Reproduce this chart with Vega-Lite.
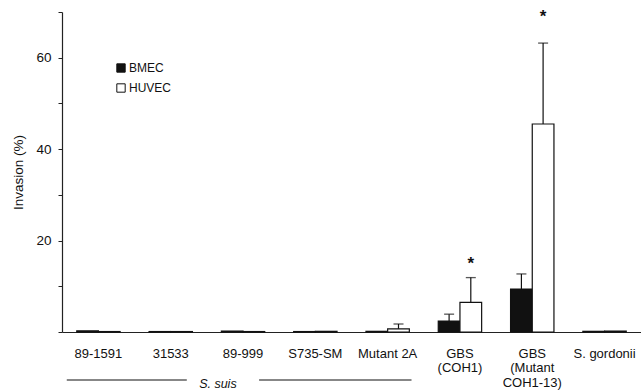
{
  "$schema": "https://vega.github.io/schema/vega-lite/v6.json",
  "width": 579,
  "height": 320,
  "autosize": {"type": "none"},
  "padding": {"left": 62, "top": 12, "right": 0, "bottom": 60},
  "background": "white",
  "config": {
    "view": {"stroke": null},
    "font": "Liberation Sans",
    "axis": {"grid": false, "domainColor": "#222", "tickColor": "#222", "labelColor": "#111", "titleColor": "#111", "labelFont": "Liberation Sans", "titleFont": "Liberation Sans"}
  },
  "data": {
    "values": [
      {"strain": "89-1591", "cell": "BMEC", "value": 0.25},
      {"strain": "89-1591", "cell": "HUVEC", "value": 0.1},
      {"strain": "31533", "cell": "BMEC", "value": 0.1},
      {"strain": "31533", "cell": "HUVEC", "value": 0.1},
      {"strain": "89-999", "cell": "BMEC", "value": 0.2},
      {"strain": "89-999", "cell": "HUVEC", "value": 0.1},
      {"strain": "S735-SM", "cell": "BMEC", "value": 0.1},
      {"strain": "S735-SM", "cell": "HUVEC", "value": 0.15},
      {"strain": "Mutant 2A", "cell": "BMEC", "value": 0.15},
      {"strain": "Mutant 2A", "cell": "HUVEC", "value": 0.7, "err": 1.75},
      {"strain": "GBS (COH1)", "cell": "BMEC", "value": 2.4, "err": 3.9},
      {"strain": "GBS (COH1)", "cell": "HUVEC", "value": 6.5, "err": 11.9, "star": 16},
      {"strain": "GBS (Mutant COH1-13)", "cell": "BMEC", "value": 9.4, "err": 12.7},
      {"strain": "GBS (Mutant COH1-13)", "cell": "HUVEC", "value": 45.5, "err": 63.2, "star": 70},
      {"strain": "S. gordonii", "cell": "BMEC", "value": 0.15},
      {"strain": "S. gordonii", "cell": "HUVEC", "value": 0.2}
    ]
  },
  "encoding": {
    "x": {
      "field": "strain",
      "type": "nominal",
      "sort": null,
      "scale": {"domain": ["89-1591", "31533", "89-999", "S735-SM", "Mutant 2A", "GBS (COH1)", "GBS (Mutant COH1-13)", "S. gordonii"], "paddingInner": 0.4, "paddingOuter": 0.204},
      "axis": {
        "title": null,
        "labelAngle": 0,
        "ticks": false,
        "labelPadding": 15,
        "labelFontSize": 13,
        "labelLineHeight": 14.5,
        "labelBaseline": "top",
        "labelExpr": "datum.value == 'GBS (COH1)' ? ['GBS', '(COH1)'] : datum.value == 'GBS (Mutant COH1-13)' ? ['GBS', '(Mutant', 'COH1-13)'] : datum.label",
        "domainWidth": 1.2
      }
    }
  },
  "layer": [
    {
      "mark": {"type": "bar", "stroke": "#111", "strokeWidth": 1.2},
      "encoding": {
        "xOffset": {"field": "cell", "type": "nominal", "scale": {"domain": ["BMEC", "HUVEC"], "paddingInner": 0, "paddingOuter": 0}},
        "y": {
          "field": "value",
          "type": "quantitative",
          "scale": {"domain": [0, 70], "nice": false},
          "axis": {
            "title": "Invasion (%)",
            "titleFontSize": 13.5,
            "titleFontWeight": "normal",
            "titlePadding": 10,
            "values": [0, 10, 20, 30, 40, 50, 60, 70],
            "labelExpr": "datum.value == 20 || datum.value == 40 || datum.value == 60 ? datum.label : ''",
            "labelFontSize": 13.5,
            "tickSize": 4,
            "labelPadding": 7,
            "domainWidth": 1.2
          }
        },
        "color": {
          "field": "cell",
          "type": "nominal",
          "scale": {"domain": ["BMEC", "HUVEC"], "range": ["#111111", "#ffffff"]},
          "legend": {
            "title": null,
            "orient": "none",
            "legendX": 53,
            "legendY": 50,
            "symbolType": "square",
            "symbolSize": 70,
            "symbolStrokeColor": "#111",
            "symbolStrokeWidth": 1,
            "labelFontSize": 12,
            "labelOffset": 2,
            "rowPadding": 6,
            "labelColor": "#111"
          }
        }
      }
    },
    {
      "transform": [{"filter": "isValid(datum.err)"}],
      "mark": {"type": "rule", "stroke": "#111", "strokeWidth": 1.2},
      "encoding": {
        "xOffset": {"field": "cell", "type": "nominal"},
        "y": {"field": "value", "type": "quantitative"},
        "y2": {"field": "err"}
      }
    },
    {
      "transform": [{"filter": "isValid(datum.err)"}],
      "mark": {"type": "tick", "color": "#111", "thickness": 1.3, "size": 10, "orient": "horizontal"},
      "encoding": {
        "xOffset": {"field": "cell", "type": "nominal"},
        "y": {"field": "err", "type": "quantitative"}
      }
    },
    {
      "transform": [{"filter": "isValid(datum.star)"}],
      "mark": {"type": "text", "text": "*", "fontSize": 17, "fontWeight": "bold", "baseline": "alphabetic", "dy": 10, "color": "#111"},
      "encoding": {
        "xOffset": {"field": "cell", "type": "nominal"},
        "y": {"field": "star", "type": "quantitative"}
      }
    },
    {
      "data": {"values": [{"from": "89-1591", "to": "31533", "yline": -10.5}]},
      "mark": {"type": "rule", "stroke": "#111", "strokeWidth": 1.2},
      "encoding": {
        "x": {"field": "from", "type": "nominal", "bandPosition": -0.23},
        "x2": {"field": "to", "bandPosition": 0.87},
        "y": {"field": "yline", "type": "quantitative"}
      }
    },
    {
      "data": {"values": [{"from": "89-999", "to": "Mutant 2A", "yline": -10.5}]},
      "mark": {"type": "rule", "stroke": "#111", "strokeWidth": 1.2},
      "encoding": {
        "x": {"field": "from", "type": "nominal", "bandPosition": 0.87},
        "x2": {"field": "to", "bandPosition": 1.05},
        "y": {"field": "yline", "type": "quantitative"}
      }
    },
    {
      "data": {"values": [{"group": "89-999", "label": "S. suis", "yline": -11.4}]},
      "mark": {"type": "text", "fontSize": 12.5, "fontStyle": "italic", "baseline": "middle", "color": "#111"},
      "encoding": {
        "x": {"field": "group", "type": "nominal", "bandPosition": -0.08},
        "y": {"field": "yline", "type": "quantitative"},
        "text": {"field": "label"}
      }
    }
  ]
}
